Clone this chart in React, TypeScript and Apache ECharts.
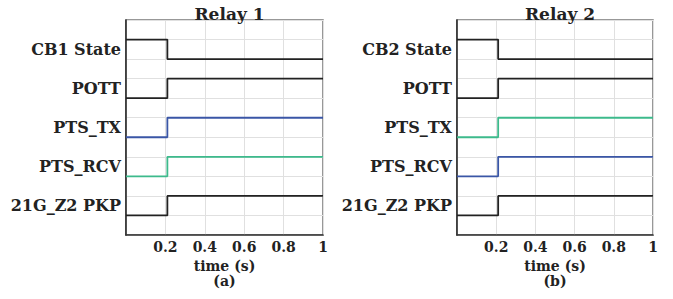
import React, { useEffect, useRef } from "react";
import * as echarts from "echarts";

const relayTitles = ["Relay 1", "Relay 2"];
const panelTags = ["(a)", "(b)"];
const xTicks = [0, 0.2, 0.4, 0.6, 0.8, 1];
const switchTime = 0.21;
const tEnd = 1;
// label rows, bottom to top (category bands 0..10)
const rowLabels1 = ["", "21G_Z2 PKP", "", "PTS_RCV", "", "PTS_TX", "", "POTT", "", "CB1 State", ""];
const rowLabels2 = ["", "21G_Z2 PKP", "", "PTS_RCV", "", "PTS_TX", "", "POTT", "", "CB2 State", ""];
// signal low levels and initial/final states (1 = high)
const signalNames = ["State", "POTT", "PTS_TX", "PTS_RCV", "21G_Z2 PKP"];
const signalBase = [9, 7, 5, 3, 1];
const stateBefore = [1, 0, 0, 0, 0];
const stateAfter = [0, 1, 1, 1, 1];
const colorsRelay1 = ["#222222", "#222222", "#3a56a6", "#3dba8c", "#222222"];
const colorsRelay2 = ["#222222", "#222222", "#3dba8c", "#3a56a6", "#222222"];

const FONT = "DejaVu Serif";

export default function App() {
  const ref = useRef<HTMLDivElement>(null);
  useEffect(() => {
    if (!ref.current) return;
    const chart = echarts.init(ref.current, undefined, { renderer: "svg" });
    const grids = [
      { left: 126, top: 20, width: 197, height: 215 },
      { left: 457, top: 20, width: 196, height: 215 },
    ];
    const labels = [rowLabels1, rowLabels2];
    const colors = [colorsRelay1, colorsRelay2];
    const xAxis: any[] = [];
    const yAxis: any[] = [];
    const series: any[] = [];
    const title: any[] = [];
    grids.forEach((g, i) => {
      title.push({
        text: relayTitles[i],
        left: g.left + g.width / 2,
        top: 0,
        textAlign: "center",
        textStyle: { fontFamily: FONT, fontWeight: "bold", fontSize: 17, color: "#222" },
      });
      xAxis.push({
        type: "value",
        gridIndex: i,
        min: 0,
        max: 1,
        interval: 0.2,
        name: "time (s)\n" + panelTags[i],
        nameLocation: "middle",
        nameGap: 17,
        nameTextStyle: { fontFamily: FONT, fontWeight: "bold", fontSize: 14, color: "#222", lineHeight: 14.5, verticalAlign: "top" },
        axisLine: { show: true, lineStyle: { color: "#333", width: 1.5 } },
        axisTick: { show: false },
        axisLabel: {
          fontFamily: FONT,
          fontWeight: "bold",
          fontSize: 14,
          color: "#222",
          margin: 5,
          formatter: (v: number) => (v === 0 ? "" : String(v)),
        },
        splitLine: { show: true, lineStyle: { color: "#e0e0e0", width: 1 } },
      });
      yAxis.push({
        type: "category",
        gridIndex: i,
        data: labels[i],
        boundaryGap: true,
        axisLine: { show: true, lineStyle: { color: "#222", width: 1.5 } },
        axisTick: { show: false },
        axisLabel: { fontFamily: FONT, fontWeight: "bold", fontSize: 16, color: "#222", margin: 5, interval: 0 },
        splitLine: { show: true, interval: 0, lineStyle: { color: "#e0e0e0", width: 1 } },
      });
      yAxis.push({
        type: "value",
        gridIndex: i,
        min: 0,
        max: 11,
        show: false,
        splitLine: { show: false },
      });
      signalNames.forEach((name, k) => {
        const lo = signalBase[k];
        const y0 = lo + stateBefore[k];
        const y1 = lo + stateAfter[k];
        series.push({
          type: "line",
          name,
          xAxisIndex: i,
          yAxisIndex: i * 2 + 1,
          data: [
            [xTicks[0], y0],
            [switchTime, y0],
            [switchTime, y1],
            [tEnd, y1],
          ],
          showSymbol: false,
          symbol: "none",
          lineStyle: { color: colors[i][k], width: 1.8 },
        });
      });
    });
    chart.setOption({
      animation: false,
      title,
      grid: grids.map((g) => ({ ...g, show: true, borderColor: "#777", borderWidth: 1.5, backgroundColor: "transparent" })),
      xAxis,
      yAxis,
      series,
    });
    return () => chart.dispose();
  }, []);
  return (
    <div
      ref={ref}
      style={{ position: "absolute", left: 0, top: 0, width: 673, height: 299, background: "#fff" }}
    />
  );
}
